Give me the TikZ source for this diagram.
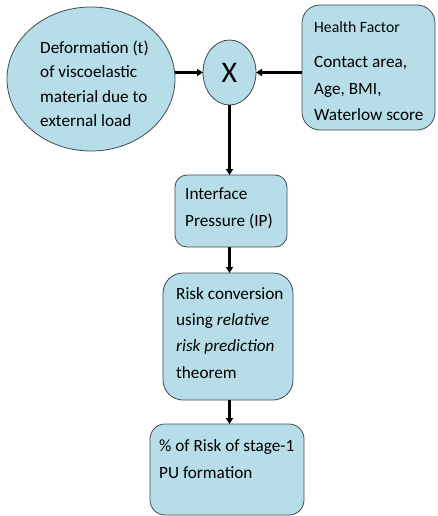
\documentclass[tikz,border=0pt]{standalone}
\usepackage{fontspec}
\setmainfont{Carlito}
\usetikzlibrary{arrows.meta,shapes.geometric}
\definecolor{boxfill}{HTML}{B7DEE8}
\definecolor{boxline}{HTML}{3E4C52}
\begin{document}
\begin{tikzpicture}[x=1pt,y=-1pt,
  shapebox/.style={draw=boxline, fill=boxfill, line width=0.8pt, inner sep=0pt, outer sep=0pt},
  txt/.style={anchor=base west, inner sep=0pt, align=left, font=\fontsize{17.2}{26.5}\selectfont},
  arr/.style={line width=2.2pt, -{Triangle[length=6pt,width=7pt]}}]
\useasboundingbox (0,0) rectangle (437,516);

% shapes
\node[shapebox, ellipse, minimum width=168pt, minimum height=144pt] (def) at (91,79) {};
\node[shapebox, ellipse, minimum width=53pt, minimum height=65pt, font=\fontsize{30}{30}\selectfont] (mul) at (229.5,72.5) {X};
\node[shapebox, rectangle, rounded corners=18pt, minimum width=133pt, minimum height=125pt] (hf) at (368.5,67.5) {};
\node[shapebox, rectangle, rounded corners=12pt, minimum width=112pt, minimum height=72pt] (ip) at (231,211) {};
\node[shapebox, rectangle, rounded corners=20pt, minimum width=130pt, minimum height=127pt] (risk) at (228,336.5) {};
\node[shapebox, rectangle, rounded corners=15pt, minimum width=154pt, minimum height=91pt] (pu) at (227,469.5) {};

% texts (anchor = baseline of the last line)
\node[txt, font=\fontsize{17.2}{24}\selectfont] (deftxt) at (40,126) {Deformation (t)\\of viscoelastic\\material due to\\external load};
\node[txt, font=\fontsize{15.7}{20}\selectfont] (hftitle) at (314,32.5) {Health Factor};
\node[txt] (hftxt) at (314,121) {Contact area,\\Age, BMI,\\Waterlow score};
\node[txt, font=\fontsize{17.2}{27}\selectfont] (iptxt) at (185,226) {Interface\\Pressure (IP)};
\node[txt, font=\fontsize{17.2}{26.3}\selectfont] (risktxt) at (176,378) {Risk conversion\\using \textit{relative}\\\textit{risk prediction}\\theorem};
\node[txt, font=\fontsize{17.2}{27}\selectfont] (putxt) at (159,478) {\% of Risk of stage-1\\PU formation};

% connectors
\draw[arr] (def.east|-mul.west) -- (mul.west);
\draw[arr] (hf.west|-mul.east) -- (mul.east);
\draw[arr] (mul.south) -- (mul.south|-ip.north);
\draw[arr] (mul.south|-ip.south) -- (mul.south|-risk.north);
\draw[arr] (mul.south|-risk.south) -- (mul.south|-pu.north);
\end{tikzpicture}
\end{document}
